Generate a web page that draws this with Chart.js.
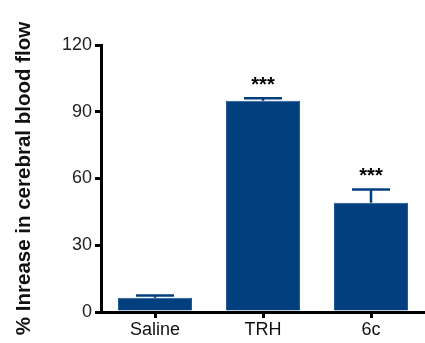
<!DOCTYPE html>
<html>
<head>
<meta charset="utf-8">
<script src="https://cdn.jsdelivr.net/npm/chart.js@4"></script>
<style>
  html, body { margin: 0; padding: 0; background: #fff; }
  #wrap { width: 425px; height: 343px; position: relative; }
</style>
</head>
<body>
<div id="wrap"><canvas id="chartFlow"></canvas></div>
<script>
const groups = ['Saline', 'TRH', '6c']
const flowMean = [6.4, 95.0, 49.1]
const flowSem = [1.0, 1.1, 6.0]
const stars = ['', '***', '***']
const yTicks = [0, 30, 60, 90, 120]

const barBlue = '#023f7e'
const fontFam = '"Liberation Sans", Arial, sans-serif'

// error bars (upper only) + significance stars
const errorPlugin = {
    id: 'errorBars',
    afterDatasetsDraw(chart) {
        const ctx = chart.ctx
        const meta = chart.getDatasetMeta(0)
        const y = chart.scales.y
        meta.data.forEach(function (bar, i) {
            const top = y.getPixelForValue(flowMean[i] + flowSem[i])
            const base = y.getPixelForValue(flowMean[i])
            ctx.save()
            ctx.strokeStyle = barBlue
            ctx.lineWidth = 2.5
            ctx.beginPath()
            ctx.moveTo(bar.x, base)
            ctx.lineTo(bar.x, top)
            ctx.moveTo(bar.x - 19, top)
            ctx.lineTo(bar.x + 19, top)
            ctx.stroke()
            if (stars[i]) {
                ctx.fillStyle = '#000'
                ctx.font = 'bold 20px ' + fontFam
                ctx.textAlign = 'center'
                ctx.textBaseline = 'alphabetic'
                ctx.fillText(stars[i], bar.x, top - 7)
            }
            ctx.restore()
        })
    }
}

var ctxFlow = document.getElementById('chartFlow').getContext('2d');
var chartFlow = new Chart(ctxFlow, {
    type: 'bar',
    data: {
        labels: groups,
        datasets: [{
            data: flowMean,
            backgroundColor: barBlue,
            borderColor: '#1d5a96',
            borderWidth: 1,
            categoryPercentage: 1.0,
            barPercentage: 0.685
        }]
    },
    options: {
        responsive: true,
        maintainAspectRatio: false,
        animation: false,
        layout: { padding: { top: 45, right: 0, bottom: 0, left: 4 } },
        plugins: {
            legend: { display: false },
            tooltip: { enabled: false }
        },
        scales: {
            x: {
                afterFit(axis) { axis.height = 31 },
                grid: {
                    offset: false,
                    drawOnChartArea: false,
                    drawTicks: true,
                    tickLength: 6,
                    color: '#000',
                    lineWidth: 3
                },
                border: { display: true, color: '#000', width: 3 },
                ticks: {
                    color: '#111',
                    padding: 1,
                    font: { family: fontFam, size: 18 }
                }
            },
            y: {
                min: 0,
                max: 120,
                afterBuildTicks(axis) {
                    axis.ticks = yTicks.map(v => ({ value: v }))
                },
                afterFit(axis) { axis.width = 97 },
                grid: {
                    drawOnChartArea: false,
                    drawTicks: true,
                    tickLength: 6,
                    color: '#000',
                    lineWidth: 3
                },
                border: { display: true, color: '#000', width: 3 },
                ticks: {
                    color: '#222',
                    padding: 3,
                    font: { family: fontFam, size: 18 }
                },
                title: {
                    display: true,
                    text: '% Inrease in cerebral blood flow',
                    color: '#111',
                    padding: { top: 8, bottom: 0 },
                    font: { family: fontFam, size: 20.5, weight: 'bold' }
                }
            }
        }
    },
    plugins: [errorPlugin]
});
</script>
</body>
</html>
